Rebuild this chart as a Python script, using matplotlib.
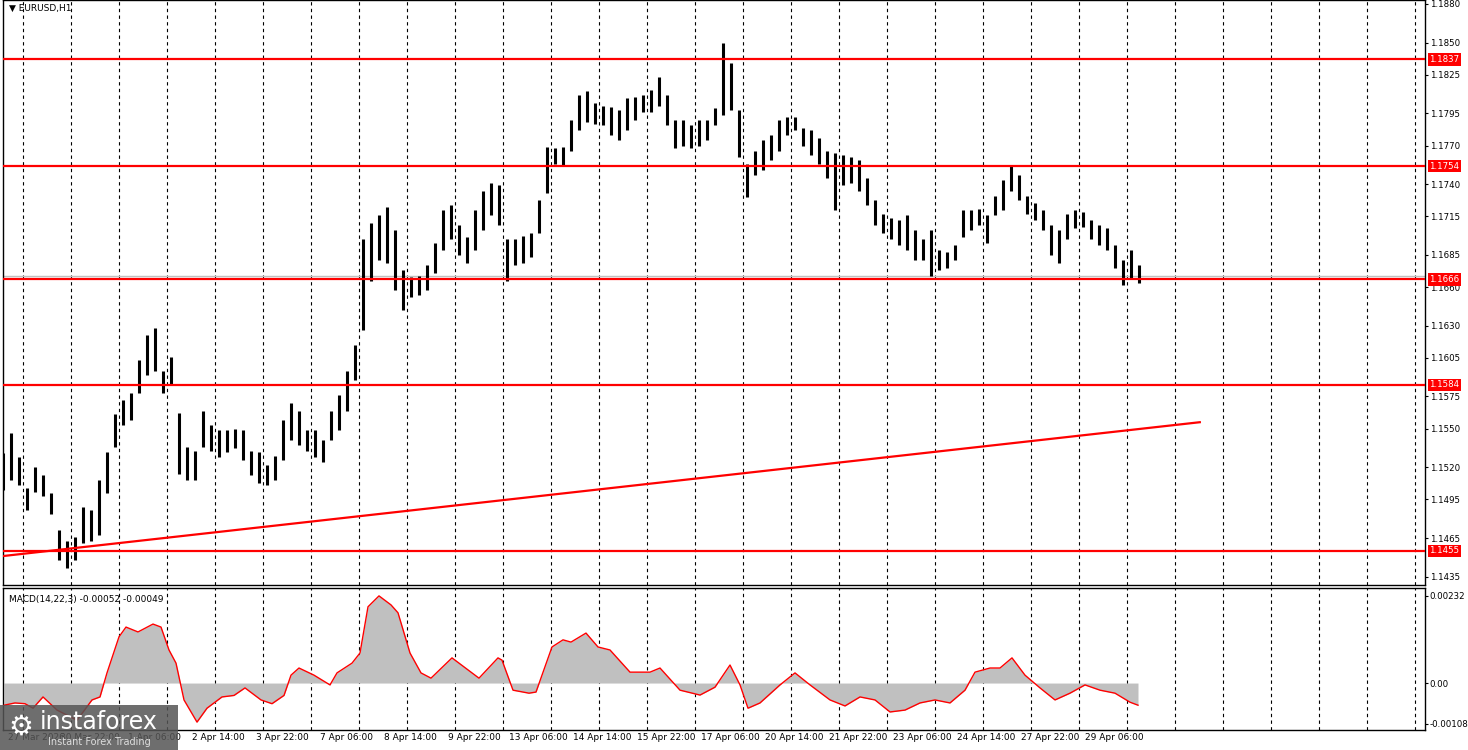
import matplotlib
matplotlib.use("Agg")
import matplotlib.pyplot as plt
import matplotlib.transforms as mtransforms
from matplotlib.patches import Rectangle

# H1 bar groups (each entry ~4 hourly bars): highs and lows
highs = [1.1531,1.1547,1.1528,1.1504,1.1520,1.1514,1.1500,1.1471,1.1463,1.1466,1.1489,1.1487,1.1510,1.1532,1.1561,1.1572,1.1578,1.1603,1.1623,1.1628,1.1595,1.1606,1.1562,1.1536,1.1533,1.1564,1.1553,1.1549,1.1549,1.1550,1.1549,1.1533,1.1532,1.1522,1.1529,1.1557,1.1570,1.1564,1.1549,1.1549,1.1541,1.1564,1.1576,1.1595,1.1615,1.1697,1.1710,1.1716,1.1722,1.1704,1.1673,1.1668,1.1669,1.1677,1.1694,1.1720,1.1724,1.1708,1.1699,1.1720,1.1735,1.1741,1.1739,1.1697,1.1697,1.1700,1.1702,1.1728,1.1769,1.1768,1.1769,1.1790,1.1809,1.1812,1.1803,1.1801,1.1800,1.1798,1.1807,1.1808,1.1809,1.1813,1.1823,1.1809,1.1790,1.1790,1.1786,1.1790,1.1790,1.1799,1.1850,1.1834,1.1798,1.1756,1.1766,1.1774,1.1778,1.1790,1.1792,1.1792,1.1784,1.1782,1.1776,1.1766,1.1764,1.1763,1.1761,1.1759,1.1745,1.1728,1.1717,1.1714,1.1712,1.1716,1.1704,1.1697,1.1704,1.1689,1.1687,1.1693,1.1720,1.1720,1.1721,1.1716,1.1731,1.1743,1.1755,1.1747,1.1731,1.1725,1.1720,1.1708,1.1704,1.1717,1.1720,1.1718,1.1712,1.1708,1.1706,1.1693,1.1681,1.1689,1.1677]
lows = [1.1502,1.1510,1.1506,1.1487,1.1501,1.1498,1.1484,1.1448,1.1442,1.1448,1.1461,1.1463,1.1467,1.1500,1.1536,1.1553,1.1557,1.1578,1.1592,1.1595,1.1578,1.1585,1.1515,1.1510,1.1510,1.1536,1.1533,1.1528,1.1532,1.1535,1.1526,1.1514,1.1508,1.1506,1.1510,1.1526,1.1541,1.1537,1.1533,1.1528,1.1524,1.1541,1.1549,1.1564,1.1588,1.1627,1.1665,1.1681,1.1679,1.1658,1.1642,1.1652,1.1654,1.1658,1.1671,1.1689,1.1697,1.1685,1.1679,1.1689,1.1704,1.1716,1.1708,1.1665,1.1677,1.1679,1.1683,1.1702,1.1733,1.1756,1.1755,1.1766,1.1782,1.1788,1.1787,1.1786,1.1778,1.1774,1.1782,1.1790,1.1796,1.1796,1.1801,1.1786,1.1768,1.1770,1.1768,1.1770,1.1774,1.1786,1.1794,1.1798,1.1761,1.1730,1.1747,1.1751,1.1759,1.1766,1.1778,1.1782,1.1770,1.1763,1.1756,1.1745,1.1720,1.1739,1.1741,1.1735,1.1724,1.1708,1.1702,1.1697,1.1693,1.1689,1.1681,1.1681,1.1669,1.1673,1.1675,1.1681,1.1699,1.1704,1.1708,1.1694,1.1716,1.1720,1.1735,1.1728,1.1717,1.1712,1.1704,1.1685,1.1679,1.1697,1.1706,1.1707,1.1697,1.1693,1.1689,1.1675,1.1662,1.1667,1.1663]

levels = [1.1837, 1.1754, 1.1666, 1.1584, 1.1455]
current_price = 1.1669
trend_idx = [0, 149.6]
trend_val = [1.1451, 1.1555]

price_ticks = [1.1880,1.1850,1.1825,1.1795,1.1770,1.1740,1.1715,1.1685,1.1660,1.1630,1.1605,1.1575,1.1550,1.1520,1.1495,1.1465,1.1435]

macd_x = [4,15,25,33,43,57,77,92,100,107,119,126,138,153,161,169,176,184,197,207,222,234,245,261,272,284,291,299,314,330,337,352,360,368,379,391,398,410,421,431,452,479,498,502,513,529,536,552,563,571,586,598,610,630,650,660,680,700,715,730,740,748,760,780,795,810,830,845,860,875,890,905,920,935,950,965,975,990,1000,1012,1025,1040,1055,1070,1085,1100,1115,1130,1138]
macd_val = [-0.00059,-0.00053,-0.00055,-0.00067,-0.00037,-0.00072,-0.00099,-0.00045,-0.00037,0.00027,0.00123,0.00149,0.00136,0.00157,0.00149,0.00088,0.00053,-0.00045,-0.00104,-0.00067,-0.00037,-0.00033,-0.00013,-0.00045,-0.00055,-0.00033,0.00021,0.00040,0.00021,-0.00005,0.00027,0.00053,0.00080,0.00203,0.00232,0.00208,0.00187,0.00080,0.00027,0.00013,0.00067,0.00013,0.00067,0.00061,-0.00019,-0.00027,-0.00024,0.00096,0.00115,0.00109,0.00133,0.00096,0.00088,0.00029,0.00029,0.00040,-0.00019,-0.00032,-0.00011,0.00048,-0.00005,-0.00067,-0.00053,-0.00005,0.00027,-0.00005,-0.00045,-0.00061,-0.00037,-0.00045,-0.00077,-0.00072,-0.00053,-0.00045,-0.00053,-0.00019,0.00029,0.00040,0.00040,0.00067,0.00021,-0.00013,-0.00045,-0.00027,-0.00005,-0.00019,-0.00027,-0.00051,-0.00059]
macd_ticks = [0.00232, 0.0, -0.00108]
macd_ticklabels = ["0.00232", "0.00", "-0.00108"]

date_labels = ["27 Mar 2026","30 Mar 22:00","1 Apr 06:00","2 Apr 14:00","3 Apr 22:00","7 Apr 06:00","8 Apr 14:00","9 Apr 22:00","13 Apr 06:00","14 Apr 14:00","15 Apr 22:00","17 Apr 06:00","20 Apr 14:00","21 Apr 22:00","23 Apr 06:00","24 Apr 14:00","27 Apr 22:00","29 Apr 06:00"]

W, H = 1468, 750
fig = plt.figure(figsize=(W/100, H/100), dpi=100)
plt.rcParams['font.family'] = ['DejaVu Sans']
ax = fig.add_axes([3/W, 1-585/H, 1422/W, 585/H])
axm = fig.add_axes([3/W, 1-730/H, 1422/W, 142/H])

xmax = 177.75
idx = list(range(len(highs)))
for a in (ax, axm):
    a.set_xlim(0, xmax)
    for g in [2.5 + 6*j for j in range(30)]:
        if g < xmax:
            a.axvline(g, color='black', ls=(0, (3, 3)), lw=0.8, zorder=0)
    a.set_xticks([])
    a.yaxis.tick_right()
    a.tick_params(axis='y', labelsize=6.2, length=2, pad=1.5, colors='black')
    for s in a.spines.values():
        s.set_linewidth(1.0)

ax.set_ylim(1.14285, 1.18831)
ax.vlines(idx, lows, highs, color='black', lw=2.2, zorder=3)
for lv in levels:
    ax.axhline(lv, color='#ff0000', lw=1.6, zorder=4)
ax.axhline(current_price, color='#c0c0c0', lw=1.0, zorder=2)
ax.plot(trend_idx, trend_val, color='#ff0000', lw=1.6, zorder=4)
ax.set_yticks(price_ticks)
ax.set_yticklabels([f"{t:.4f}" for t in price_ticks])
trans = mtransforms.blended_transform_factory(ax.transAxes, ax.transData)
for lv in levels:
    ax.text(1.003, lv, f"{lv:.4f}", transform=trans, va='center', ha='left', fontsize=6.2,
            color='white', bbox=dict(boxstyle='square,pad=0.2', fc='#ff0000', ec='none'), zorder=10, clip_on=False)
ax.text(0.004, 0.993, "▼ EURUSD,H1", transform=ax.transAxes, fontsize=6.5, va='top', ha='left')

mx = [(x-3)/8 for x in macd_x]
axm.set_ylim(-0.00125, 0.00253)
axm.fill_between(mx, 0, macd_val, color='#c0c0c0', lw=0, zorder=1)
axm.plot(mx, macd_val, color='#ff0000', lw=1.0, zorder=3)
axm.set_yticks(macd_ticks)
axm.set_yticklabels(macd_ticklabels)
axm.text(0.004, 0.95, "MACD(14,22,3) -0.00052 -0.00049", transform=axm.transAxes, fontsize=6.5, va='top', ha='left')

for i, lab in enumerate(date_labels):
    k = 2.9 + 8*i
    xf = (3 + 8*k)/W
    fig.text(xf if i > 0 else 8/W, 1-738/H, lab, fontsize=6.5, ha='center' if i > 0 else 'left', va='center')

# watermark
fig.patches.append(Rectangle((0, 0), 178/W, 45/H, transform=fig.transFigure, fc='#555555', ec='none', alpha=0.85, zorder=20))
fig.text(40/W, 1-722/H, "instaforex", fontsize=17, color='white', ha='left', va='center', zorder=21)
fig.text(48/W, 1-742/H, "Instant Forex Trading", fontsize=7, color='#dddddd', ha='left', va='center', zorder=21)
fig.text(8/W, 1-727/H, "⚙", fontsize=20, color='white', ha='left', va='center', zorder=21)

fig.savefig("out.png", dpi=100)
